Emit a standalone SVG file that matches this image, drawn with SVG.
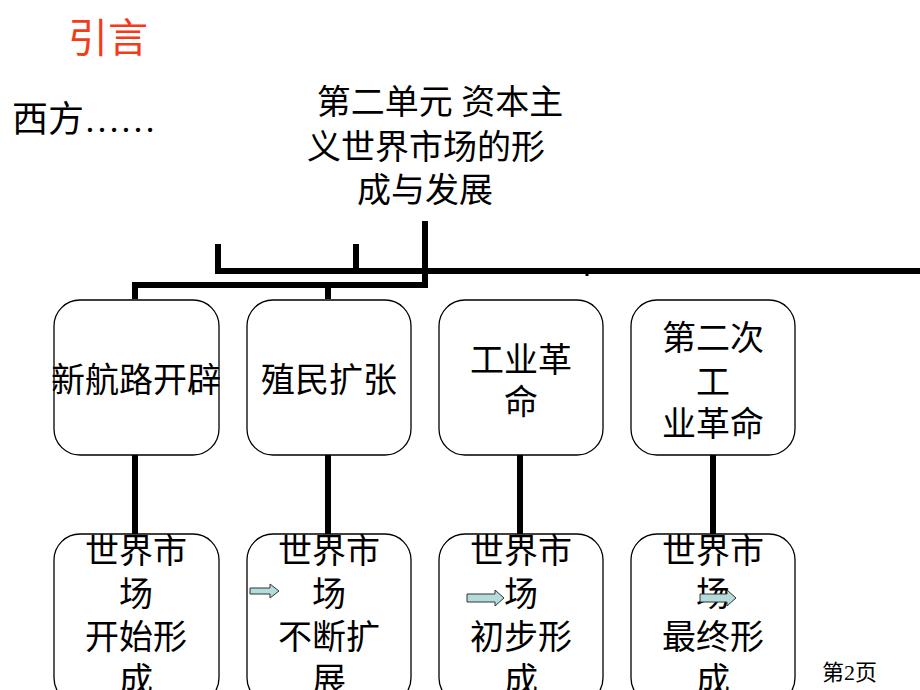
<svg xmlns="http://www.w3.org/2000/svg" width="920" height="690" viewBox="0 0 920 690">
<style>
text{font-family:"Liberation Serif","Noto Sans CJK SC",serif;fill:#000}
.n{font-size:34px;text-anchor:middle}
.box{fill:#fff;stroke:#000;stroke-width:1.3}
.ln{stroke:#000;stroke-width:6;fill:none}
.ar{fill:#b4dcdc;stroke:#333;stroke-width:1}
</style>
<rect width="920" height="690" fill="#fff"/>
<text x="68" y="52" font-size="40" fill="#ff3300" style="fill:#f53a1a">引言</text>
<text x="12" y="132" font-size="36">西方……</text>
<g id="title"><text class="n" x="440" y="114" font-size="33">第二单元 资本主</text>
<text class="n" x="426" y="159">义世界市场的形</text>
<text class="n" x="425" y="202">成与发展</text></g>
<g id="connectors">
<path class="ln" d="M218 244V271H920M356 244V271M425 221V285H135V299M328 285V299"/>
<path d="M587 271V276" stroke="#000" stroke-width="3"/>
<path class="ln" d="M135 455V534M328 455V534M520 455V534M713 455V534"/>
</g>
<g id="n1"><rect class="box" x="54" y="300" width="165" height="155" rx="26"/><text class="n" x="136" y="392">新航路开辟</text></g>
<g id="n2"><rect class="box" x="247" y="300" width="164" height="155" rx="26"/><text class="n" x="329" y="392">殖民扩张</text></g>
<g id="n3"><rect class="box" x="439" y="300" width="164" height="155" rx="26"/><text class="n" x="521" y="372">工业革</text><text class="n" x="521" y="414">命</text></g>
<g id="n4"><rect class="box" x="631" y="300" width="164" height="155" rx="26"/><text class="n" x="713" y="350">第二次</text><text class="n" x="713" y="394">工</text><text class="n" x="713" y="436">业革命</text></g>
<g id="b1"><rect class="box" x="54" y="534" width="165" height="170" rx="26"/><text class="n" x="136" y="563">世界市</text><text class="n" x="136" y="606">场</text><text class="n" x="136" y="649">开始形</text><text class="n" x="136" y="692">成</text></g>
<g id="b2"><rect class="box" x="247" y="534" width="164" height="170" rx="26"/><text class="n" x="329" y="563">世界市</text><text class="n" x="329" y="606">场</text><text class="n" x="329" y="649">不断扩</text><text class="n" x="329" y="692">展</text></g>
<g id="b3"><rect class="box" x="439" y="534" width="164" height="170" rx="26"/><text class="n" x="521" y="563">世界市</text><text class="n" x="521" y="606">场</text><text class="n" x="521" y="649">初步形</text><text class="n" x="521" y="692">成</text></g>
<g id="b4"><rect class="box" x="631" y="534" width="164" height="170" rx="26"/><text class="n" x="713" y="563">世界市</text><text class="n" x="713" y="606">场</text><text class="n" x="713" y="649">最终形</text><text class="n" x="713" y="692">成</text></g>
<path class="ar" d="M250 588H270V584L279 591L270 598V594H250Z"/>
<path class="ar" d="M467 594H495V590L504 598L495 606V602H467Z"/>
<path class="ar" d="M700 594H727V590L736 598L727 606V602H700Z"/>
<text x="822" y="680" font-size="22" font-family="Liberation Sans,Noto Sans CJK SC,sans-serif">第2页</text>
</svg>
